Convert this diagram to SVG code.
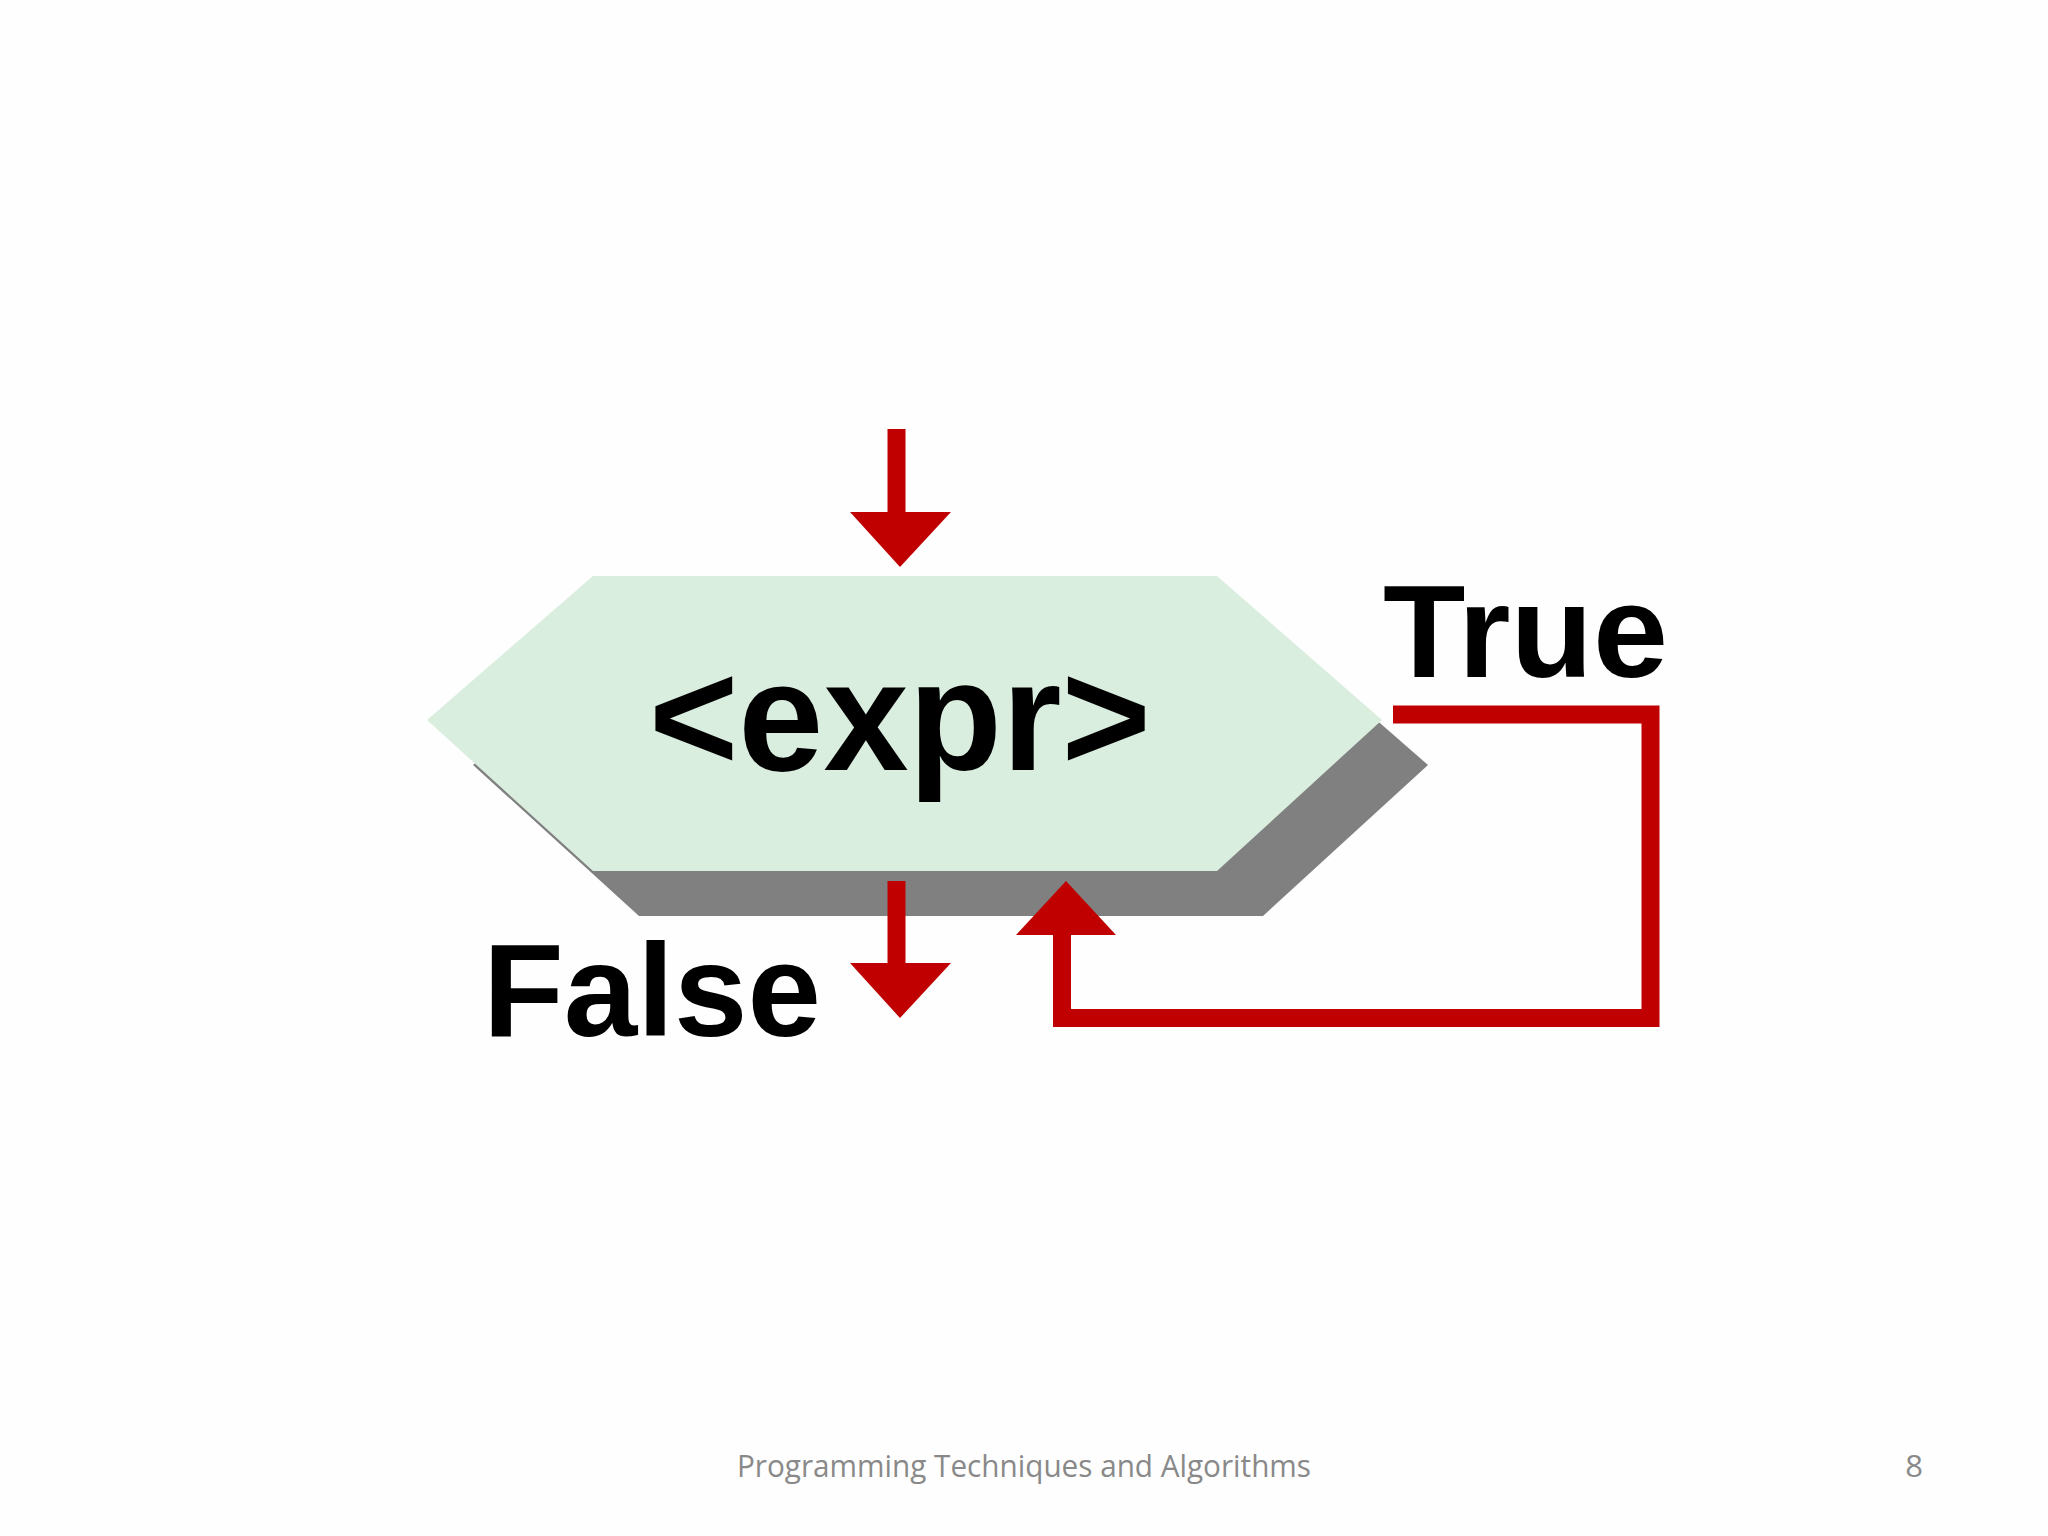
<svg xmlns="http://www.w3.org/2000/svg" width="2048" height="1536" viewBox="0 0 2048 1536">
<style>
.lbl{font-family:"Liberation Sans",Arial,sans-serif;font-weight:bold;fill:#000}
.conn{fill:none;stroke:#C00000;stroke-width:18;stroke-linejoin:miter;stroke-linecap:butt}
.head{fill:#C00000}
.foot{font-family:"Open Sans","Liberation Sans",sans-serif;fill:#898989}
</style>
<rect width="2048" height="1536" fill="#fefefe"/>
<g id="node-expr">
<polygon points="473,765 639,621 1263,621 1428,765 1263,916 639,916" fill="#808080"/>
<polygon points="427,720 593,576 1217,576 1382,720 1217,871 593,871" fill="#DAEEDF"/>
<text class="lbl" x="900" y="770" font-size="155" text-anchor="middle" textLength="502" lengthAdjust="spacingAndGlyphs">&lt;expr&gt;</text>
</g>
<g id="label-true">
<text class="lbl" x="1383" y="677" font-size="132" textLength="285" lengthAdjust="spacingAndGlyphs">True</text>
</g>
<g id="label-false">
<text class="lbl" x="483" y="1036" font-size="132" textLength="338" lengthAdjust="spacingAndGlyphs">False</text>
</g>
<g id="connectors">
<line class="conn" x1="896.5" y1="429" x2="896.5" y2="514" stroke-width="17"/>
<polygon class="head" points="850,512 951,512 900,567"/>
<line class="conn" x1="896.5" y1="881" x2="896.5" y2="965" stroke-width="17"/>
<polygon class="head" points="850,963 951,963 900,1018"/>
<polyline class="conn" points="1393,714.5 1650.5,714.5 1650.5,1018 1062,1018 1062,933"/>
<polygon class="head" points="1016,935 1116,935 1066,881"/>
</g>
<g id="footer">
<text class="foot" x="1024" y="1477" font-size="31" text-anchor="middle" textLength="574" lengthAdjust="spacingAndGlyphs">Programming Techniques and Algorithms</text>
<text class="foot" x="1923" y="1477" font-size="31" text-anchor="end">8</text>
</g>
</svg>
